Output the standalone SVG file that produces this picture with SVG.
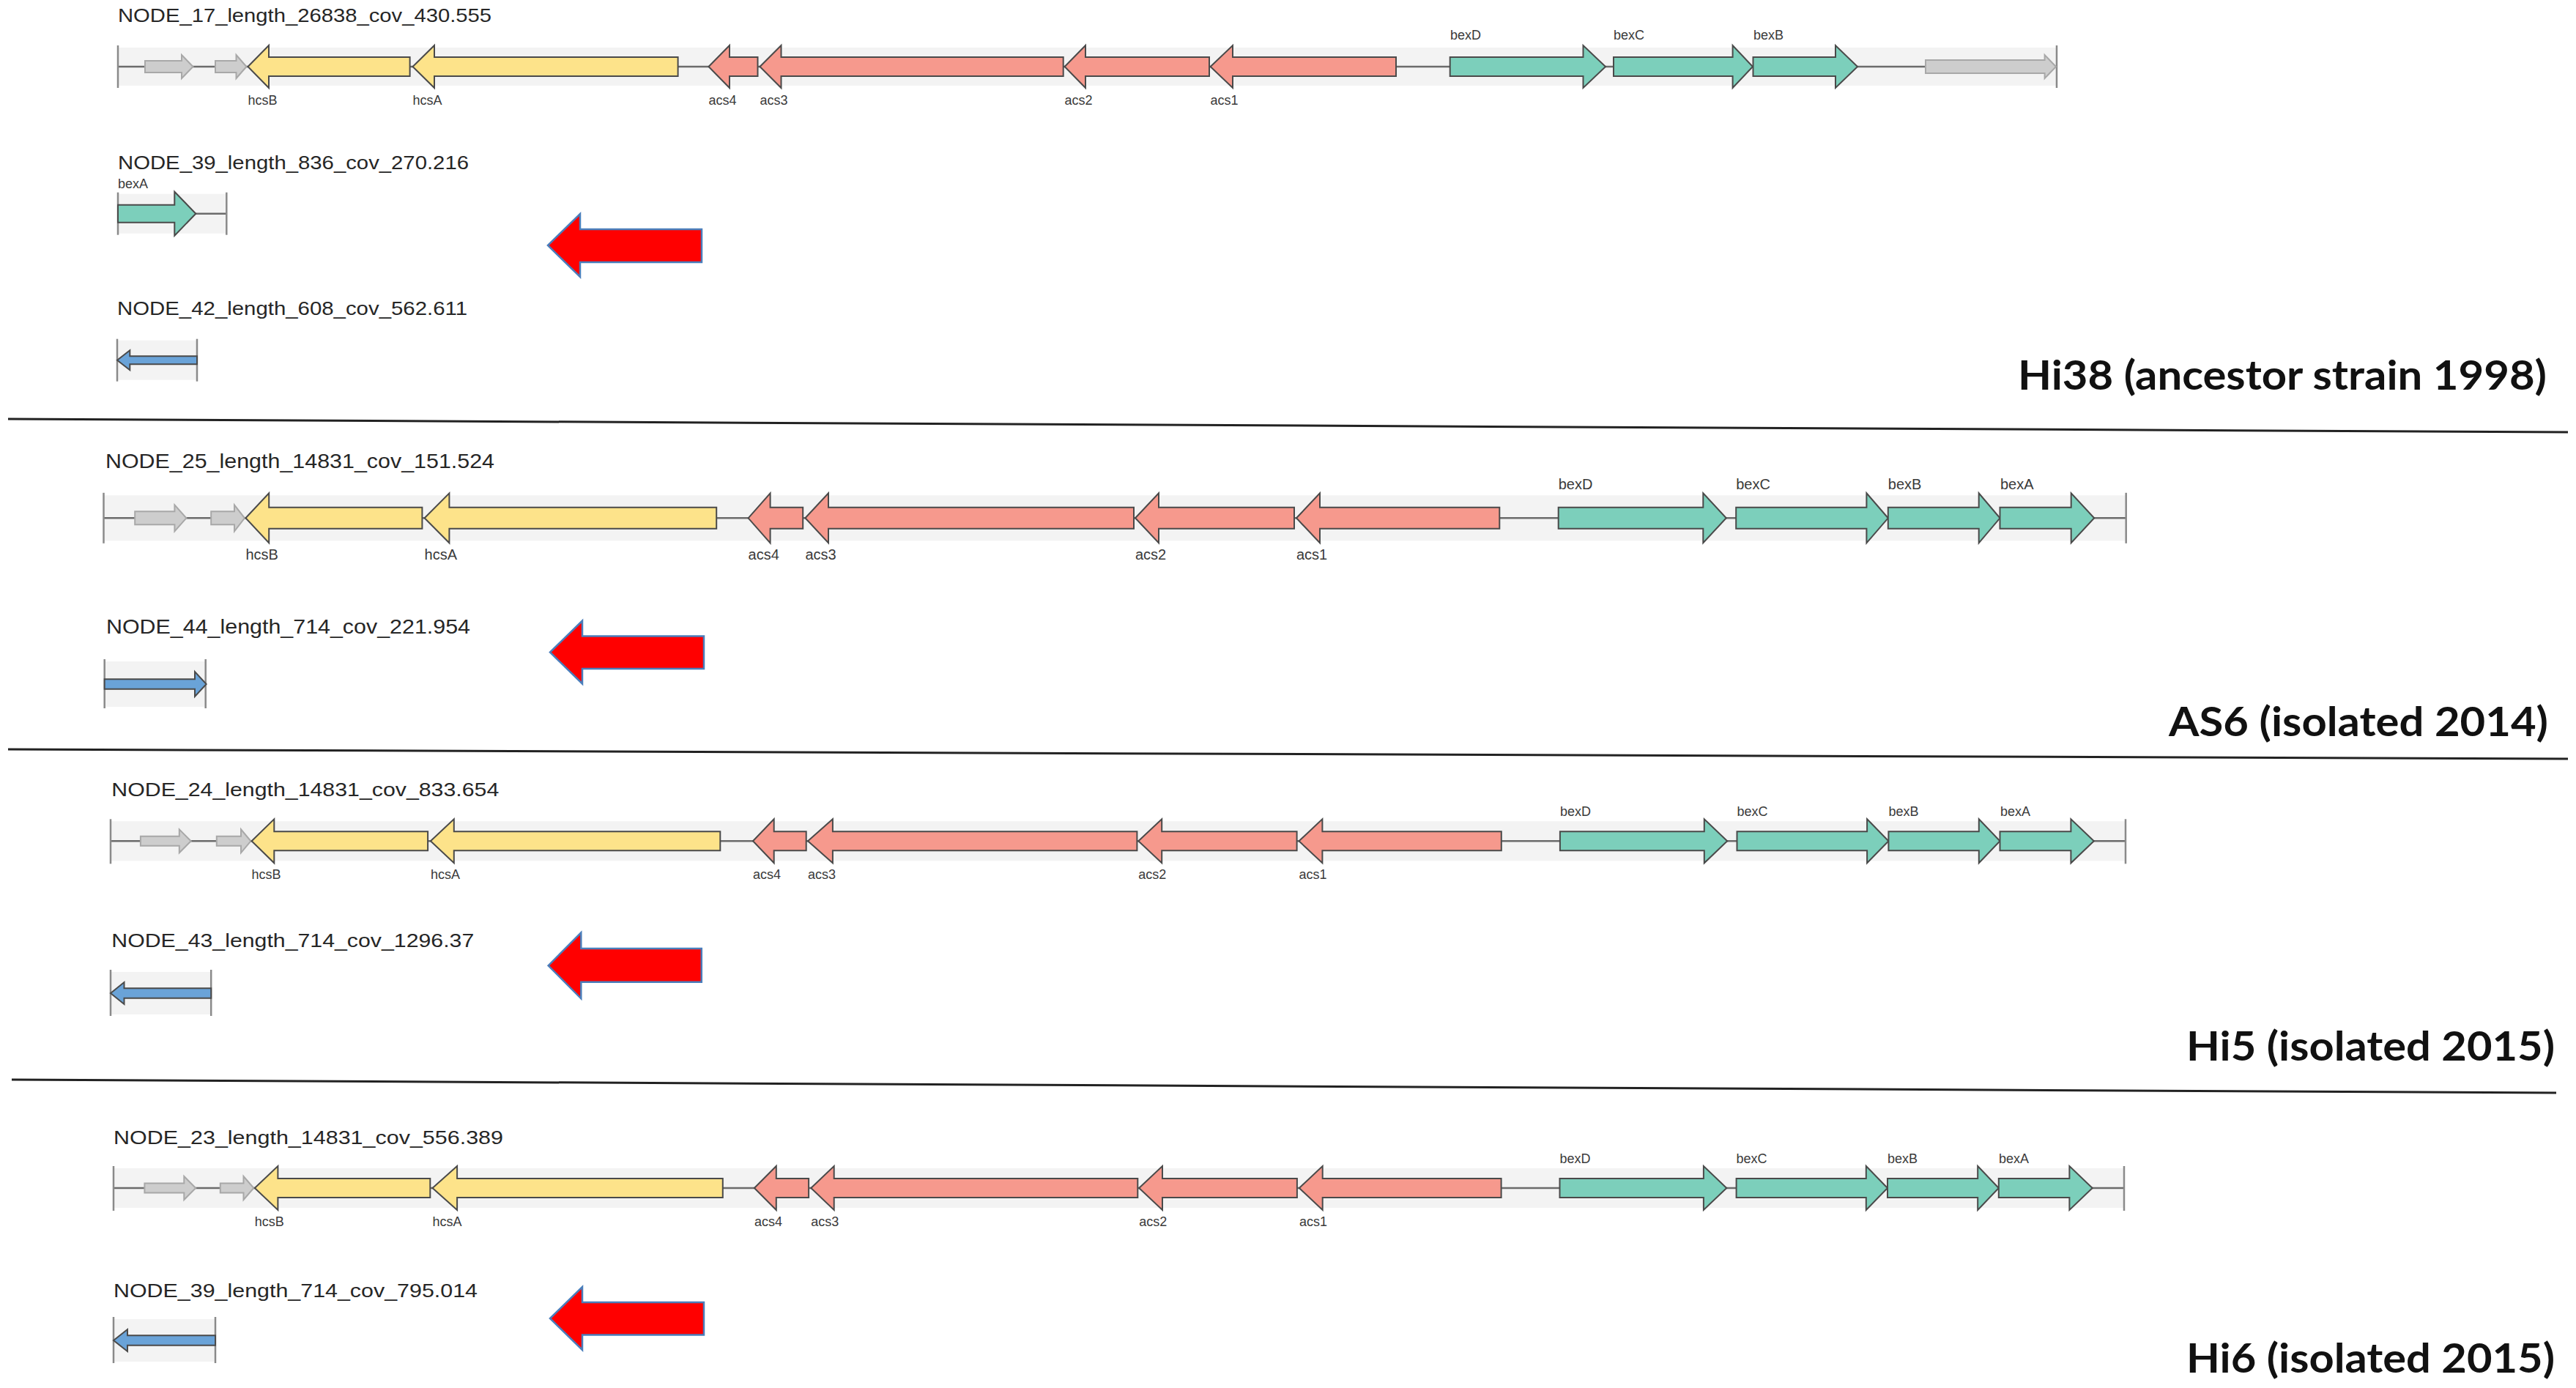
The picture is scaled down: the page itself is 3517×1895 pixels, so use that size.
<svg xmlns="http://www.w3.org/2000/svg" width="3517" height="1895" viewBox="0 0 3517 1895">
<style>
.t{font-family:"Liberation Sans",Arial,sans-serif;fill:#262626}
.lbl{font-family:"Liberation Sans",Arial,sans-serif;fill:#3a3a3a}
.strain{font-family:Lato,"Open Sans",sans-serif;font-weight:700;font-size:56px;fill:#111}
.band{fill:#f3f3f3}
.axis{stroke:#6b6b6b;stroke-width:2.5}
.tick{stroke:#8a8a8a;stroke-width:2.5}
.g{stroke:#4a4a4a;stroke-width:2;stroke-linejoin:miter}
.hcs{fill:#fde38a}
.acs{fill:#f6998d}
.bex{fill:#7ccfbb}
.oth{fill:#cdcdcd;stroke:#a8a8a8;stroke-width:2}
.blue{fill:#6aa3d8}
.red{fill:#ff0000;stroke:#4a7ebb;stroke-width:2.5}
.sep{stroke:#222;stroke-width:3}
</style>
<rect width="3517" height="1895" fill="#ffffff"/>

<!-- ================= Row 1 : Hi38 ================= -->
<g id="node17">
<text class="t" x="161" y="29.5" font-size="25" textLength="510" lengthAdjust="spacingAndGlyphs">NODE_17_length_26838_cov_430.555</text>
<g transform="translate(0,91)">
<rect class="band" x="161" y="-26" width="2647" height="52"/>
<line class="axis" x1="161" y1="0" x2="2808" y2="0"/>
<line class="tick" x1="161" y1="-29" x2="161" y2="29"/>
<line class="tick" x1="2808" y1="-29" x2="2808" y2="29"/>
<polygon class="oth" points="198,-8 248,-8 248,-16 263.5,0 248,16 248,8 198,8"/>
<polygon class="oth" points="294,-8 322.5,-8 322.5,-16 336.5,0 322.5,16 322.5,8 294,8"/>
<polygon class="g hcs" points="338.5,0 367,-29 367,-13 559.6,-13 559.6,13 367,13 367,29"/>
<polygon class="g hcs" points="563.5,0 593,-29 593,-13 925.6,-13 925.6,13 593,13 593,29"/>
<polygon class="g acs" points="967.5,0 996,-29 996,-13 1034.5,-13 1034.5,13 996,13 996,29"/>
<polygon class="g acs" points="1037.5,0 1066.5,-29 1066.5,-13 1451.7,-13 1451.7,13 1066.5,13 1066.5,29"/>
<polygon class="g acs" points="1453.6,0 1482,-29 1482,-13 1651,-13 1651,13 1482,13 1482,29"/>
<polygon class="g acs" points="1652.6,0 1683,-29 1683,-13 1906,-13 1906,13 1683,13 1683,29"/>
<polygon class="g bex" points="1979.7,-13 2161.5,-13 2161.5,-29 2192,0 2161.5,29 2161.5,13 1979.7,13"/>
<polygon class="g bex" points="2203,-13 2365.6,-13 2365.6,-29 2393,0 2365.6,29 2365.6,13 2203,13"/>
<polygon class="g bex" points="2393.5,-13 2506,-13 2506,-29 2536,0 2506,29 2506,13 2393.5,13"/>
<polygon class="oth" points="2629,-9 2791.6,-9 2791.6,-16 2807,0 2791.6,16 2791.6,9 2629,9"/>
<g class="lbl" font-size="18">
<text x="338.5" y="52">hcsB</text>
<text x="563.5" y="52">hcsA</text>
<text x="967.5" y="52">acs4</text>
<text x="1037.5" y="52">acs3</text>
<text x="1453.6" y="52">acs2</text>
<text x="1652.6" y="52">acs1</text>
<text x="1980" y="-37">bexD</text>
<text x="2203" y="-37">bexC</text>
<text x="2394" y="-37">bexB</text>
</g>
</g>
</g>

<g id="node39a">
<text class="t" x="161" y="231" font-size="25" textLength="479" lengthAdjust="spacingAndGlyphs">NODE_39_length_836_cov_270.216</text>
<g transform="translate(0,291.7)">
<rect class="band" x="161" y="-27" width="148.3" height="54"/>
<line class="axis" x1="161" y1="0" x2="309.3" y2="0"/>
<line class="tick" x1="161" y1="-29" x2="161" y2="29"/>
<line class="tick" x1="309.3" y1="-29" x2="309.3" y2="29"/>
<polygon class="g bex" points="161,-12 238.3,-12 238.3,-30 267.3,0 238.3,30 238.3,12 161,12"/>
<text class="lbl" font-size="18" x="161" y="-35">bexA</text>
</g>
</g>

<g id="node42">
<text class="t" x="160" y="430" font-size="25" textLength="478" lengthAdjust="spacingAndGlyphs">NODE_42_length_608_cov_562.611</text>
<g transform="translate(0,491.7)">
<rect class="band" x="160" y="-27" width="109" height="54"/>
<line class="tick" x1="160" y1="-29" x2="160" y2="29"/>
<line class="tick" x1="269" y1="-29" x2="269" y2="29"/>
<polygon class="g blue" points="160,0 177.3,-13.5 177.3,-5.5 269,-5.5 269,5.5 177.3,5.5 177.3,13.5"/>
</g>
</g>

<g id="redarrow1">
<polygon class="red" points="748,335 792,292 792,313 958,313 958,358 792,358 792,378"/>
</g>
<g id="label-hi38">
<text class="strain" x="2755" y="532" textLength="722" lengthAdjust="spacingAndGlyphs">Hi38 (ancestor strain 1998)</text>
</g>

<!-- ================= Row 2 : AS6 ================= -->
<g id="node25">
<text class="t" x="144" y="639.3" font-size="28" textLength="531" lengthAdjust="spacingAndGlyphs">NODE_25_length_14831_cov_151.524</text>
<g transform="translate(0,707.3)">
<rect class="band" x="141.5" y="-31" width="2761.2" height="62"/>
<line class="axis" x1="141.5" y1="0" x2="2902.7" y2="0"/>
<line class="tick" x1="141.5" y1="-34.5" x2="141.5" y2="34.5"/>
<line class="tick" x1="2902.7" y1="-34.5" x2="2902.7" y2="34.5"/>
<polygon class="oth" points="184.2,-9 238.4,-9 238.4,-18 254.4,0 238.4,18 238.4,9 184.2,9"/>
<polygon class="oth" points="288.2,-9 320,-9 320,-18 334,0 320,18 320,9 288.2,9"/>
<polygon class="g hcs" points="335.4,0 367.2,-34 367.2,-14.5 576.4,-14.5 576.4,14.5 367.2,14.5 367.2,34"/>
<polygon class="g hcs" points="579.6,0 613.4,-34 613.4,-14.5 978.2,-14.5 978.2,14.5 613.4,14.5 613.4,34"/>
<polygon class="g acs" points="1021.6,0 1051.6,-34 1051.6,-14.5 1096.2,-14.5 1096.2,14.5 1051.6,14.5 1051.6,34"/>
<polygon class="g acs" points="1099.4,0 1131,-34 1131,-14.5 1548,-14.5 1548,14.5 1131,14.5 1131,34"/>
<polygon class="g acs" points="1550,0 1582,-34 1582,-14.5 1767,-14.5 1767,14.5 1582,14.5 1582,34"/>
<polygon class="g acs" points="1770,0 1802,-34 1802,-14.5 2047.3,-14.5 2047.3,14.5 1802,14.5 1802,34"/>
<polygon class="g bex" points="2127.7,-14.5 2325.3,-14.5 2325.3,-34 2356.8,0 2325.3,34 2325.3,14.5 2127.7,14.5"/>
<polygon class="g bex" points="2370.2,-14.5 2548.4,-14.5 2548.4,-34 2577.8,0 2548.4,34 2548.4,14.5 2370.2,14.5"/>
<polygon class="g bex" points="2577.8,-14.5 2701.7,-14.5 2701.7,-34 2730.5,0 2701.7,34 2701.7,14.5 2577.8,14.5"/>
<polygon class="g bex" points="2730.5,-14.5 2827.7,-14.5 2827.7,-34 2859.2,0 2827.7,34 2827.7,14.5 2730.5,14.5"/>
<g class="lbl" font-size="20">
<text x="335.4" y="56.7">hcsB</text>
<text x="579.6" y="56.7">hcsA</text>
<text x="1021.6" y="56.7">acs4</text>
<text x="1099.4" y="56.7">acs3</text>
<text x="1550" y="56.7">acs2</text>
<text x="1770" y="56.7">acs1</text>
<text x="2127.7" y="-39">bexD</text>
<text x="2370.2" y="-39">bexC</text>
<text x="2577.8" y="-39">bexB</text>
<text x="2731" y="-39">bexA</text>
</g>
</g>
</g>

<g id="node44">
<text class="t" x="145" y="865" font-size="28" textLength="497" lengthAdjust="spacingAndGlyphs">NODE_44_length_714_cov_221.954</text>
<g transform="translate(0,934)">
<rect class="band" x="142.7" y="-31" width="138" height="62"/>
<line class="tick" x1="142.7" y1="-34" x2="142.7" y2="33"/>
<line class="tick" x1="280.7" y1="-34" x2="280.7" y2="33"/>
<polygon class="g blue" points="142.7,-6.7 266,-6.7 266,-17 281.7,0 266,17 266,6.7 142.7,6.7"/>
</g>
</g>

<g id="redarrow2">
<polygon class="red" points="751,890.5 795,847.5 795,868.5 961,868.5 961,913 795,913 795,933.5"/>
</g>
<g id="label-as6">
<text class="strain" x="2961" y="1005" textLength="518" lengthAdjust="spacingAndGlyphs">AS6 (isolated 2014)</text>
</g>

<!-- ================= Row 3 : Hi5 ================= -->
<g id="node24">
<text class="t" x="152.3" y="1086.7" font-size="25" textLength="529" lengthAdjust="spacingAndGlyphs">NODE_24_length_14831_cov_833.654</text>
<g transform="translate(0,1148.3)">
<rect class="band" x="151" y="-27" width="2751" height="54"/>
<line class="axis" x1="151" y1="0" x2="2902" y2="0"/>
<line class="tick" x1="151" y1="-30" x2="151" y2="31"/>
<line class="tick" x1="2902" y1="-30" x2="2902" y2="31"/>
<polygon class="oth" points="191.9,-6.5 244.8,-6.5 244.8,-16 260.7,0 244.8,16 244.8,6.5 191.9,6.5"/>
<polygon class="oth" points="295.8,-6.5 329,-6.5 329,-16 342.4,0 329,16 329,6.5 295.8,6.5"/>
<polygon class="g hcs" points="343.6,0 374.3,-30 374.3,-13 584.1,-13 584.1,13 374.3,13 374.3,30"/>
<polygon class="g hcs" points="587.9,0 619.8,-30 619.8,-13 983.3,-13 983.3,13 619.8,13 619.8,30"/>
<polygon class="g acs" points="1028,0 1056.7,-30 1056.7,-13 1100.7,-13 1100.7,13 1056.7,13 1056.7,30"/>
<polygon class="g acs" points="1103,0 1136.9,-30 1136.9,-13 1552.4,-13 1552.4,13 1136.9,13 1136.9,30"/>
<polygon class="g acs" points="1554.3,0 1586.2,-30 1586.2,-13 1770.6,-13 1770.6,13 1586.2,13 1586.2,30"/>
<polygon class="g acs" points="1773.5,0 1805.4,-30 1805.4,-13 2049.8,-13 2049.8,13 1805.4,13 1805.4,30"/>
<polygon class="g bex" points="2129.9,-13 2326.8,-13 2326.8,-30 2358.2,0 2326.8,30 2326.8,13 2129.9,13"/>
<polygon class="g bex" points="2371.5,-13 2549.1,-13 2549.1,-30 2578.4,0 2549.1,30 2549.1,13 2371.5,13"/>
<polygon class="g bex" points="2578.4,-13 2701.8,-13 2701.8,-30 2730.5,0 2701.8,30 2701.8,13 2578.4,13"/>
<polygon class="g bex" points="2730.5,-13 2827.4,-13 2827.4,-30 2858.8,0 2827.4,30 2827.4,13 2730.5,13"/>
<g class="lbl" font-size="18">
<text x="343.6" y="51.7">hcsB</text>
<text x="587.9" y="51.7">hcsA</text>
<text x="1028" y="51.7">acs4</text>
<text x="1103" y="51.7">acs3</text>
<text x="1554.3" y="51.7">acs2</text>
<text x="1773.5" y="51.7">acs1</text>
<text x="2129.9" y="-34.5">bexD</text>
<text x="2371.5" y="-34.5">bexC</text>
<text x="2578.4" y="-34.5">bexB</text>
<text x="2731" y="-34.5">bexA</text>
</g>
</g>
</g>

<g id="node43">
<text class="t" x="152.3" y="1293.3" font-size="25" textLength="495" lengthAdjust="spacingAndGlyphs">NODE_43_length_714_cov_1296.37</text>
<g transform="translate(0,1356)">
<rect class="band" x="151" y="-29" width="137.2" height="58"/>
<line class="tick" x1="151" y1="-32" x2="151" y2="31"/>
<line class="tick" x1="288.2" y1="-32" x2="288.2" y2="31"/>
<polygon class="g blue" points="151,0 169.5,-15 169.5,-6.7 288.2,-6.7 288.2,6.7 169.5,6.7 169.5,15"/>
</g>
</g>

<g id="redarrow3">
<polygon class="red" points="748.6,1318.3 793.3,1273.3 793.3,1295 957.8,1295 957.8,1340.7 793.3,1340.7 793.3,1363.3"/>
</g>
<g id="label-hi5">
<text class="strain" x="2985" y="1448" textLength="503" lengthAdjust="spacingAndGlyphs">Hi5 (isolated 2015)</text>
</g>

<!-- ================= Row 4 : Hi6 ================= -->
<g id="node23">
<text class="t" x="155" y="1562" font-size="25" textLength="532" lengthAdjust="spacingAndGlyphs">NODE_23_length_14831_cov_556.389</text>
<g transform="translate(0,1622)">
<rect class="band" x="155" y="-27" width="2745" height="54"/>
<line class="axis" x1="155" y1="0" x2="2900" y2="0"/>
<line class="tick" x1="155" y1="-30" x2="155" y2="31"/>
<line class="tick" x1="2900" y1="-30" x2="2900" y2="31"/>
<polygon class="oth" points="197.4,-6.5 251.3,-6.5 251.3,-16 267.2,0 251.3,16 251.3,6.5 197.4,6.5"/>
<polygon class="oth" points="300.8,-6.5 332.5,-6.5 332.5,-16 346.4,0 332.5,16 332.5,6.5 300.8,6.5"/>
<polygon class="g hcs" points="347.8,0 379.4,-30 379.4,-13 587.3,-13 587.3,13 379.4,13 379.4,30"/>
<polygon class="g hcs" points="590.5,0 624.1,-30 624.1,-13 986.8,-13 986.8,13 624.1,13 624.1,30"/>
<polygon class="g acs" points="1029.9,0 1059.8,-30 1059.8,-13 1104.1,-13 1104.1,13 1059.8,13 1059.8,30"/>
<polygon class="g acs" points="1107.3,0 1138.7,-30 1138.7,-13 1553.3,-13 1553.3,13 1138.7,13 1138.7,30"/>
<polygon class="g acs" points="1555.2,0 1587,-30 1587,-13 1770.9,-13 1770.9,13 1587,13 1587,30"/>
<polygon class="g acs" points="1773.9,0 1805.7,-30 1805.7,-13 2049.6,-13 2049.6,13 1805.7,13 1805.7,30"/>
<polygon class="g bex" points="2129.5,-13 2325.9,-13 2325.9,-30 2357.3,0 2325.9,30 2325.9,13 2129.5,13"/>
<polygon class="g bex" points="2370.6,-13 2547.8,-13 2547.8,-30 2577,0 2547.8,30 2547.8,13 2370.6,13"/>
<polygon class="g bex" points="2577,-13 2700.2,-13 2700.2,-30 2728.8,0 2700.2,30 2700.2,13 2577,13"/>
<polygon class="g bex" points="2728.8,-13 2825.4,-13 2825.4,-30 2856.7,0 2825.4,30 2825.4,13 2728.8,13"/>
<g class="lbl" font-size="18">
<text x="347.8" y="51.7">hcsB</text>
<text x="590.5" y="51.7">hcsA</text>
<text x="1029.9" y="51.7">acs4</text>
<text x="1107.3" y="51.7">acs3</text>
<text x="1555.2" y="51.7">acs2</text>
<text x="1773.9" y="51.7">acs1</text>
<text x="2129.5" y="-34.5">bexD</text>
<text x="2370.6" y="-34.5">bexC</text>
<text x="2577" y="-34.5">bexB</text>
<text x="2729" y="-34.5">bexA</text>
</g>
</g>
</g>

<g id="node39b">
<text class="t" x="155" y="1771" font-size="25" textLength="497" lengthAdjust="spacingAndGlyphs">NODE_39_length_714_cov_795.014</text>
<g transform="translate(0,1830)">
<rect class="band" x="155" y="-29" width="139" height="58"/>
<line class="tick" x1="155" y1="-32" x2="155" y2="31"/>
<line class="tick" x1="294" y1="-32" x2="294" y2="31"/>
<polygon class="g blue" points="155,0 174,-15 174,-6.7 294,-6.7 294,6.7 174,6.7 174,15"/>
</g>
</g>

<g id="redarrow4">
<polygon class="red" points="751,1800 795,1757 795,1778 961,1778 961,1822.5 795,1822.5 795,1843"/>
</g>
<g id="label-hi6">
<text class="strain" x="2985" y="1874" textLength="503" lengthAdjust="spacingAndGlyphs">Hi6 (isolated 2015)</text>
</g>

<!-- separators -->
<g id="connectors">
<line class="sep" x1="11" y1="572" x2="3506" y2="590"/>
<line class="sep" x1="11" y1="1023" x2="3506" y2="1036"/>
<line class="sep" x1="16" y1="1474" x2="3490" y2="1492"/>
</g>
</svg>
